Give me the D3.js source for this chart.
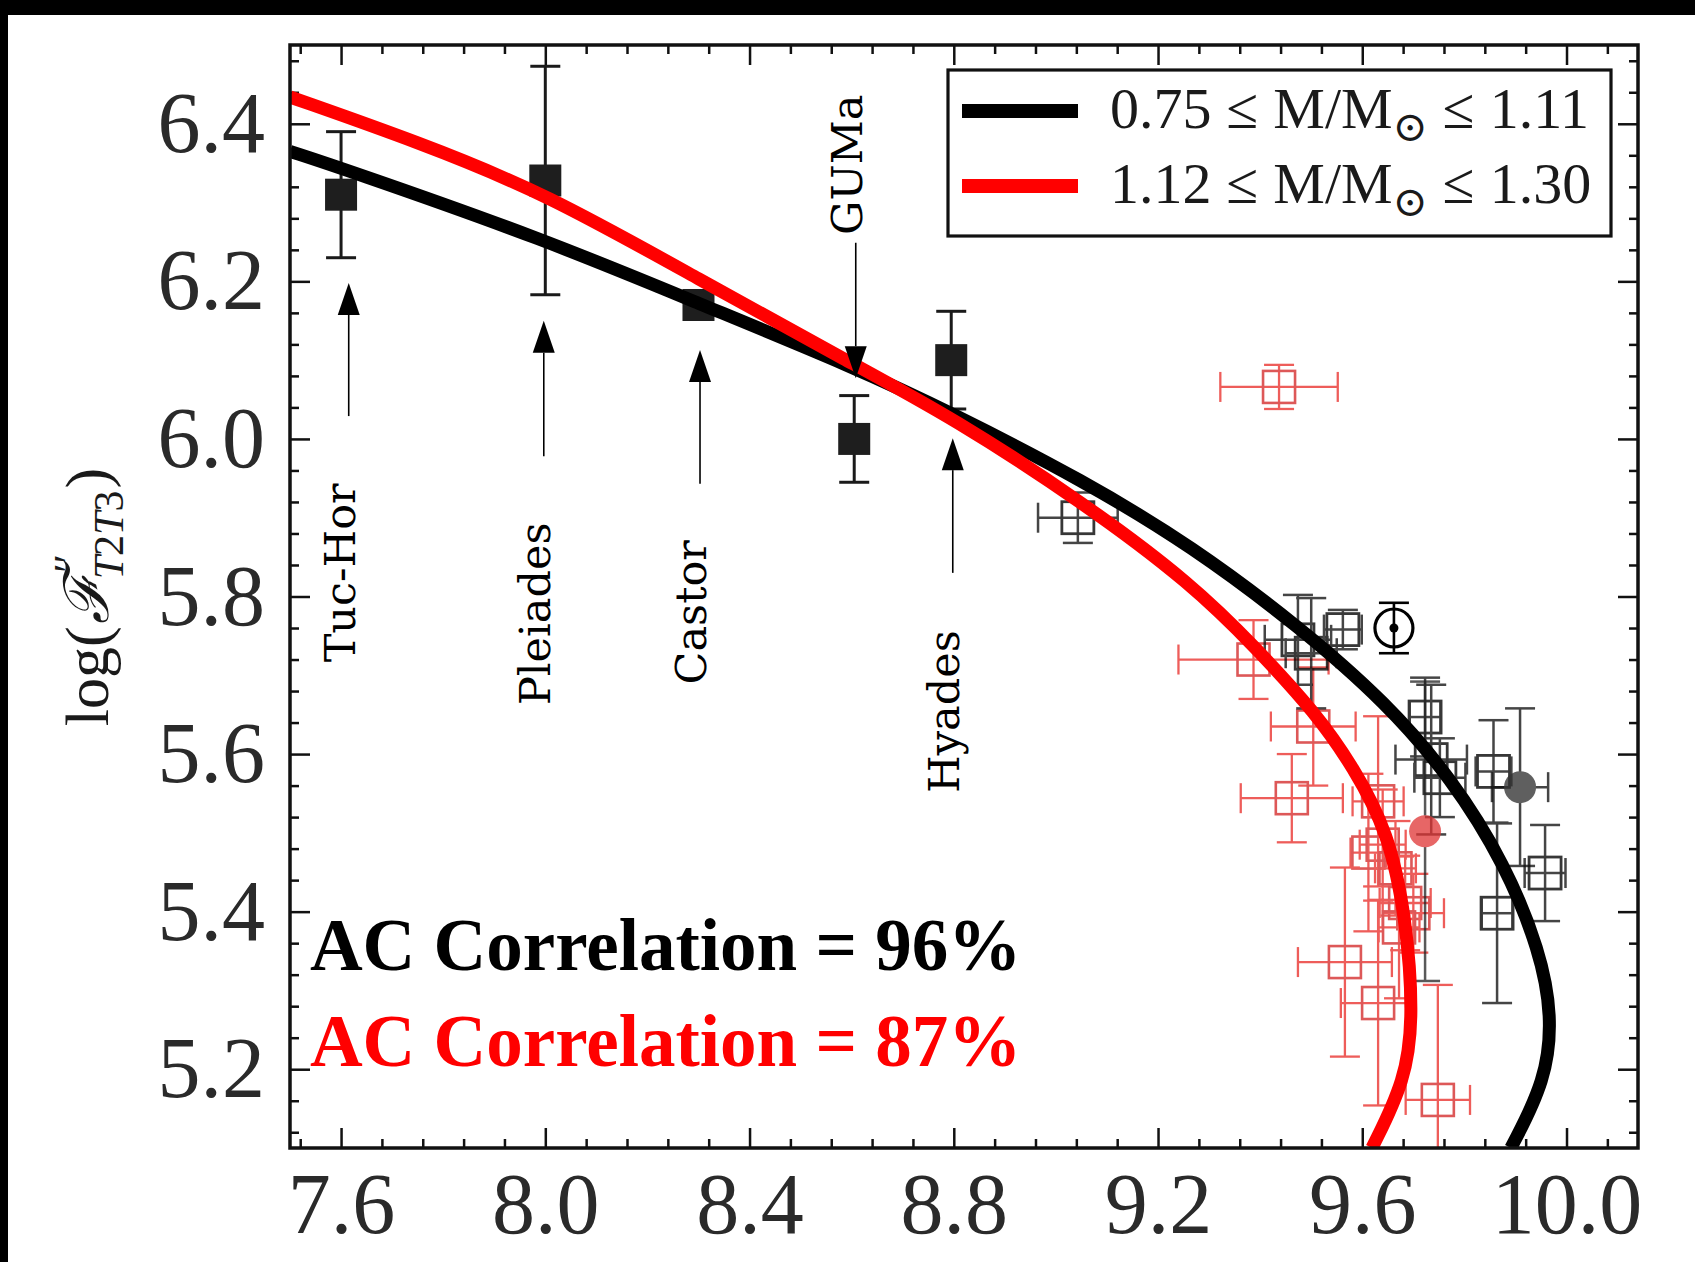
<!DOCTYPE html>
<html lang="en">
<head>
<meta charset="UTF-8">
<title>AC Correlation</title>
<script src="https://cdnjs.cloudflare.com/ajax/libs/d3/7.8.5/d3.min.js"></script>
<style>
  body { margin: 0; background: #fff; }
  svg { display: block; }
</style>
</head>
<body>
<div id="chart"></div>
<script>
var W = 1695, H = 1262;
// plot box in pixels (note: "top" is taken by window.top, so use other names)
var plotL = 290, plotT = 45, plotR = 1638, plotB = 1148;

// axis ticks
var xTicks = [7.6, 8.0, 8.4, 8.8, 9.2, 9.6, 10.0];
var yTicks = [5.2, 5.4, 5.6, 5.8, 6.0, 6.2, 6.4];

// fitted relations as [log age, log flux]
var blackFit = [[7.50, 6.365], [7.60, 6.344], [8.00, 6.253], [8.30, 6.172], [8.605, 6.091],
  [8.796, 6.033], [9.054, 5.947], [9.266, 5.864], [9.478, 5.761], [9.647, 5.665], [9.774, 5.570],
  [9.880, 5.460], [9.948, 5.350], [9.972, 5.268], [9.960, 5.186], [9.891, 5.100]];
var redFit = [[7.50, 6.434], [7.75, 6.377], [8.00, 6.312], [8.30, 6.203], [8.60, 6.096],
  [8.80, 6.026], [9.054, 5.919], [9.266, 5.816], [9.393, 5.734], [9.509, 5.652], [9.583, 5.583],
  [9.651, 5.501], [9.686, 5.391], [9.700, 5.268], [9.685, 5.186], [9.619, 5.100]];

// open clusters (filled squares)
var clusterNames = ["Tuc-Hor", "Pleiades", "Castor", "GUMa", "Hyades"];
var clusterAge = [7.60, 8.00, 8.30, 8.605, 8.795];
var clusterFlux = [6.31, 6.328, 6.17, 6.00, 6.10];
var clusterErr = [0.08, 0.145, 0, 0.055, 0.062];

// annotation arrows (flux of tail, tip and label middle)
var arrowAge = [7.615, 7.997, 8.303, 8.608, 8.798];
var arrowTail = [6.029, 5.978, 5.943, 6.249, 5.830];
var arrowTip = [6.198, 6.150, 6.113, 6.077, 6.001];
var labelMid = [5.830, 5.778, 5.780, 6.348, 5.654];

// field stars, lower mass bin: [age, flux, age err, flux err]
var blackStars = [[9.043, 5.900, 0.078, 0.032], [9.474, 5.745, 0.065, 0.057], [9.500, 5.728, 0.05, 0.07],
  [9.562, 5.758, 0.037, 0.025], [9.723, 5.647, 0.03, 0.05], [9.735, 5.593, 0.07, 0.095],
  [9.752, 5.570, 0.05, 0.05], [9.857, 5.578, 0.035, 0.065], [9.958, 5.449, 0.04, 0.061],
  [9.864, 5.398, 0.03, 0.114]];
// field stars, higher mass bin
var redStars = [[9.437, 6.066, 0.115, 0.028], [9.387, 5.720, 0.147, 0.05], [9.504, 5.635, 0.083, 0.075],
  [9.462, 5.544, 0.10, 0.056], [9.631, 5.540, 0.05, 0.108], [9.612, 5.475, 0.035, 0.10],
  [9.640, 5.485, 0.045, 0.07], [9.665, 5.455, 0.04, 0.06], [9.684, 5.411, 0.05, 0.06],
  [9.700, 5.398, 0.06, 0.05], [9.672, 5.380, 0.04, 0.09], [9.566, 5.336, 0.092, 0.12],
  [9.631, 5.284, 0.073, 0.13], [9.748, 5.161, 0.063, 0.146]];
// circles: the Sun, one black-bin and one red-bin star
var sunPoint = [9.662, 5.760, 0, 0.032];
var grayCircle = [9.909, 5.558, 0.055, 0.10];
var redCircle = [9.723, 5.502, 0, 0.19];

var legendLabels = [["0.75", "M/M", "1.11"], ["1.12", "M/M", "1.30"]];
var corrLabels = ["AC Correlation = 96%", "AC Correlation = 87%"];

var x = d3.scaleLinear().domain([7.5, 10.14]).range([plotL, plotR]);
var y = d3.scaleLinear().domain([5.1, 6.5]).range([plotB, plotT]);

var svg = d3.select("#chart").append("svg").attr("width", W).attr("height", H);
svg.append("rect").attr("width", W).attr("height", H).attr("fill", "#fff");
// black frame edges of the original picture
svg.append("rect").attr("x", 0).attr("y", 0).attr("width", W).attr("height", 15).attr("fill", "#000");
svg.append("rect").attr("x", 0).attr("y", 0).attr("width", 8).attr("height", H).attr("fill", "#000");

svg.append("clipPath").attr("id", "plot").append("rect")
  .attr("x", plotL).attr("y", plotT).attr("width", plotR - plotL).attr("height", plotB - plotT);

//minor ticks every 0.08 in x and 0.04 in y
function minor(lo, hi, step, majors) {
  return d3.range(Math.round(lo / step), Math.round(hi / step) + 1).map(function (k) { return +(k * step).toFixed(3); })
    .filter(function (v) { return majors.every(function (m) { return Math.abs(m - v) > 1e-6; }); });
}
var xMinor = minor(7.52, 10.08, 0.08, xTicks);
var yMinor = minor(5.12, 6.48, 0.04, yTicks);

function axis(gen, tr) {
  var g = svg.append("g").attr("transform", tr).call(gen);
  g.select(".domain").remove();
  g.selectAll(".tick line").attr("stroke", "#111").attr("stroke-width", 2.5);
  g.selectAll(".tick text").attr("font-family", "'Liberation Serif', serif").attr("font-size", 86).attr("fill", "#2a2a2a");
  return g;
}
axis(d3.axisBottom(x).tickValues(xTicks).tickSize(-20).tickSizeOuter(0).tickPadding(24).tickFormat(d3.format(".1f")), "translate(0," + plotB + ")");
axis(d3.axisBottom(x).tickValues(xMinor).tickSize(-9).tickSizeOuter(0).tickFormat(""), "translate(0," + plotB + ")");
axis(d3.axisTop(x).tickValues(xTicks).tickSize(-20).tickSizeOuter(0).tickFormat(""), "translate(0," + plotT + ")");
axis(d3.axisTop(x).tickValues(xMinor).tickSize(-9).tickSizeOuter(0).tickFormat(""), "translate(0," + plotT + ")");
axis(d3.axisLeft(y).tickValues(yTicks).tickSize(-20).tickSizeOuter(0).tickPadding(25).tickFormat(d3.format(".1f")), "translate(" + plotL + ",0)");
axis(d3.axisLeft(y).tickValues(yMinor).tickSize(-9).tickSizeOuter(0).tickFormat(""), "translate(" + plotL + ",0)");
axis(d3.axisRight(y).tickValues(yTicks).tickSize(-20).tickSizeOuter(0).tickFormat(""), "translate(" + plotR + ",0)");
axis(d3.axisRight(y).tickValues(yMinor).tickSize(-9).tickSizeOuter(0).tickFormat(""), "translate(" + plotR + ",0)");

var plot = svg.append("g").attr("clip-path", "url(#plot)");

// error bars with caps
function errBars(g, d, color, width, cap) {
  var cx = x(d[0]), cy = y(d[1]);
  if (d[2] > 0) {
    var x0 = x(d[0] - d[2]), x1 = x(d[0] + d[2]);
    g.append("line").attr("x1", x0).attr("x2", x1).attr("y1", cy).attr("y2", cy);
    g.append("line").attr("x1", x0).attr("x2", x0).attr("y1", cy - cap).attr("y2", cy + cap);
    g.append("line").attr("x1", x1).attr("x2", x1).attr("y1", cy - cap).attr("y2", cy + cap);
  }
  if (d[3] > 0) {
    var y0 = y(d[1] - d[3]), y1 = y(d[1] + d[3]);
    g.append("line").attr("x1", cx).attr("x2", cx).attr("y1", y0).attr("y2", y1);
    g.append("line").attr("x1", cx - cap).attr("x2", cx + cap).attr("y1", y0).attr("y2", y0);
    g.append("line").attr("x1", cx - cap).attr("x2", cx + cap).attr("y1", y1).attr("y2", y1);
  }
  g.selectAll("line").attr("stroke", color).attr("stroke-width", width);
}

var redG = plot.append("g").attr("opacity", 0.72);
redStars.forEach(function (d) {
  var g = redG.append("g");
  errBars(g, d, "#e8201c", 2.3, 15);
  g.append("rect").attr("x", x(d[0]) - 16).attr("y", y(d[1]) - 16).attr("width", 32).attr("height", 32)
    .attr("fill", "none").attr("stroke", "#d01818").attr("stroke-width", 2.6);
});

var blackG = plot.append("g").attr("opacity", 0.78);
blackStars.forEach(function (d) {
  var g = blackG.append("g");
  errBars(g, d, "#111", 2.5, 15);
  g.append("rect").attr("x", x(d[0]) - 16).attr("y", y(d[1]) - 16).attr("width", 32).attr("height", 32)
    .attr("fill", "none").attr("stroke", "#000").attr("stroke-width", 2.8);
});

var g2 = plot.append("g").attr("opacity", 0.78);
errBars(g2.append("g"), grayCircle, "#111", 2.5, 15);
g2.append("circle").attr("cx", x(grayCircle[0])).attr("cy", y(grayCircle[1])).attr("r", 16).attr("fill", "#333");
var g3 = plot.append("g").attr("opacity", 0.75);
errBars(g3.append("g"), redCircle, "#222", 2.5, 15);
g3.append("circle").attr("cx", x(redCircle[0])).attr("cy", y(redCircle[1])).attr("r", 16).attr("fill", "#e03434");

// the Sun
var gs = plot.append("g");
errBars(gs.append("g"), sunPoint, "#000", 2.6, 15);
gs.append("circle").attr("cx", x(sunPoint[0])).attr("cy", y(sunPoint[1])).attr("r", 19)
  .attr("fill", "none").attr("stroke", "#000").attr("stroke-width", 3.2);
gs.append("circle").attr("cx", x(sunPoint[0])).attr("cy", y(sunPoint[1])).attr("r", 4.5).attr("fill", "#000");

// clusters
clusterAge.forEach(function (a, i) {
  var g = plot.append("g");
  errBars(g, [a, clusterFlux[i], 0, clusterErr[i]], "#1a1a1a", 3, 15);
  g.append("rect").attr("x", x(a) - 16).attr("y", y(clusterFlux[i]) - 16).attr("width", 32).attr("height", 32)
    .attr("fill", "#1e1e1e");
});

// fits on top of the points (basis spline smooths the hand-read points)
var line = d3.line().x(function (d) { return x(d[0]); }).y(function (d) { return y(d[1]); })
  .curve(d3.curveBasis);
plot.append("path").datum(blackFit).attr("d", line).attr("fill", "none").attr("stroke", "#000").attr("stroke-width", 13);
plot.append("path").datum(redFit).attr("d", line).attr("fill", "none").attr("stroke", "#ff0000").attr("stroke-width", 13);

// frame
svg.append("rect").attr("x", plotL).attr("y", plotT).attr("width", plotR - plotL).attr("height", plotB - plotT)
  .attr("fill", "none").attr("stroke", "#111").attr("stroke-width", 3.5);

// arrows and cluster names
arrowAge.forEach(function (a, i) {
  var ax = x(a), t0 = y(arrowTail[i]), t1 = y(arrowTip[i]);
  var dir = t1 < t0 ? 1 : -1; // 1 = pointing up
  var base = t1 + dir * 32;
  svg.append("line").attr("x1", ax).attr("x2", ax).attr("y1", t0).attr("y2", base)
    .attr("stroke", "#000").attr("stroke-width", 1.6);
  svg.append("path").attr("d", "M" + ax + "," + t1 + "L" + (ax - 11) + "," + base + "L" + (ax + 11) + "," + base + "Z")
    .attr("fill", "#000");
  svg.append("text")
    .attr("transform", "translate(" + (ax + 6) + "," + y(labelMid[i]) + ") rotate(-90)")
    .attr("text-anchor", "middle")
    .attr("font-family", "'DejaVu Serif', serif").attr("font-size", 43).attr("fill", "#000")
    .text(clusterNames[i]);
});

// correlation labels
svg.append("text").attr("x", x(7.539)).attr("y", y(5.326))
  .attr("font-family", "'Liberation Serif', serif").attr("font-weight", "bold").attr("font-size", 73)
  .attr("fill", "#000").text(corrLabels[0]);
svg.append("text").attr("x", x(7.539)).attr("y", y(5.204))
  .attr("font-family", "'Liberation Serif', serif").attr("font-weight", "bold").attr("font-size", 73)
  .attr("fill", "#ff0000").text(corrLabels[1]);

// legend
var lg = svg.append("g");
lg.append("rect").attr("x", 948).attr("y", 70).attr("width", 663).attr("height", 166)
  .attr("fill", "#fff").attr("stroke", "#111").attr("stroke-width", 3.2);
["#000", "#ff0000"].forEach(function (c, i) {
  var cy = 111 + i * 75;
  lg.append("line").attr("x1", 962).attr("x2", 1078).attr("y1", cy).attr("y2", cy)
    .attr("stroke", c).attr("stroke-width", 14);
  var t = lg.append("text").attr("x", 1110).attr("y", cy + 17)
    .attr("font-family", "'Liberation Serif', serif").attr("font-size", 58).attr("fill", "#1a1a1a");
  t.append("tspan").text(legendLabels[i][0]);
  t.append("tspan").attr("dx", 15).text("\u2264");
  t.append("tspan").attr("dx", 15).text(legendLabels[i][1]);
  t.append("tspan").attr("dy", 13).attr("font-size", 42).attr("font-family", "'DejaVu Serif', serif").text("\u2299");
  t.append("tspan").attr("dy", -13).attr("dx", 15).text("\u2264");
  t.append("tspan").attr("dx", 15).text(legendLabels[i][2]);
});

// y axis title, rotated
var yl = svg.append("g").attr("transform", "translate(108,597) rotate(-90)");
var inner = yl.append("g").attr("font-family", "'Liberation Serif', serif").attr("fill", "#1a1a1a");
var fs = 62;
var p1 = inner.append("text").attr("font-size", fs).text("log(");
var w = p1.node().getComputedTextLength();
var pF = inner.append("text").attr("x", w + 2).attr("font-size", fs).attr("font-family", "'DejaVu Serif', serif")
  .attr("font-style", "italic").text("\u2131");
w += 2 + pF.node().getComputedTextLength();
var sup = inner.append("text").attr("x", w - 2).attr("y", -25).attr("font-size", 42).attr("font-style", "italic").text("\u2032\u2032");
var sub = inner.append("text").attr("x", w - 6).attr("y", 15).attr("font-size", 42);
sub.append("tspan").attr("font-style", "italic").text("T");
sub.append("tspan").text("2");
sub.append("tspan").attr("font-style", "italic").text("T");
sub.append("tspan").text("3");
w += Math.max(sup.node().getComputedTextLength() - 2, sub.node().getComputedTextLength() - 6) + 2;
var p2 = inner.append("text").attr("x", w).attr("font-size", fs).text(")");
w += p2.node().getComputedTextLength();
inner.attr("transform", "translate(" + (-w / 2) + ",0)");
</script>
</body>
</html>
